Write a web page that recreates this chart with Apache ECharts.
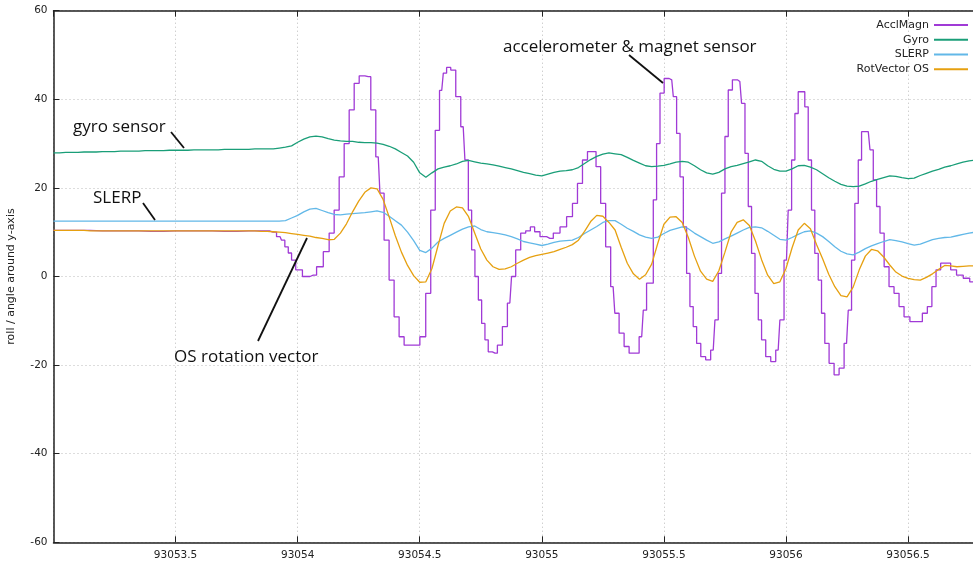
<!DOCTYPE html>
<html>
<head>
<meta charset="utf-8">
<script src="https://cdn.jsdelivr.net/npm/echarts@6/dist/echarts.min.js"></script>
<style>
  html, body { margin: 0; padding: 0; background: #fff; }
  #container { width: 973px; height: 565px; }
</style>
</head>
<body>
<div id="container"></div>
<script>
  // Gyro / SLERP / RotVector OS: samples every 0.025 s starting at 93053.000
  var tStart = 93053.0;
  var tStep = 0.025;

  // AcclMagn is a stepped signal, read at its own time stamps
  var acclMagnTimes = [
    93053.000, 93053.100, 93053.200, 93053.300, 93053.400, 93053.500, 93053.600, 93053.700, 93053.800, 93053.870,
    93053.899, 93053.928, 93053.940, 93053.955, 93053.968, 93053.982, 93054.002, 93054.037, 93054.064, 93054.091,
    93054.119, 93054.139, 93054.160, 93054.180, 93054.201, 93054.221, 93054.242, 93054.262, 93054.289, 93054.310,
    93054.330, 93054.344, 93054.364, 93054.385, 93054.405, 93054.426, 93054.446, 93054.487, 93054.514, 93054.535,
    93054.555, 93054.572, 93054.590, 93054.603, 93054.617, 93054.637, 93054.658, 93054.678, 93054.692, 93054.706,
    93054.719, 93054.733, 93054.747, 93054.760, 93054.774, 93054.787, 93054.808, 93054.828, 93054.849, 93054.869,
    93054.883, 93054.903, 93054.924, 93054.944, 93054.962, 93054.979, 93055.006, 93055.033, 93055.061, 93055.088,
    93055.115, 93055.136, 93055.156, 93055.177, 93055.197, 93055.213, 93055.231, 93055.251, 93055.272, 93055.292,
    93055.306, 93055.327, 93055.347, 93055.368, 93055.388, 93055.409, 93055.422, 93055.436, 93055.450, 93055.463,
    93055.477, 93055.491, 93055.511, 93055.532, 93055.545, 93055.559, 93055.573, 93055.586, 93055.600, 93055.613,
    93055.627, 93055.641, 93055.661, 93055.681, 93055.702, 93055.716, 93055.729, 93055.743, 93055.757, 93055.770,
    93055.791, 93055.811, 93055.825, 93055.839, 93055.852, 93055.866, 93055.880, 93055.893, 93055.907, 93055.927,
    93055.948, 93055.968, 93055.982, 93056.002, 93056.016, 93056.030, 93056.043, 93056.057, 93056.070, 93056.084,
    93056.098, 93056.111, 93056.125, 93056.139, 93056.152, 93056.166, 93056.187, 93056.207, 93056.228, 93056.248,
    93056.262, 93056.275, 93056.289, 93056.303, 93056.316, 93056.337, 93056.351, 93056.364, 93056.378, 93056.392,
    93056.412, 93056.432, 93056.453, 93056.473, 93056.494, 93056.521, 93056.548, 93056.569, 93056.589, 93056.606,
    93056.623, 93056.644, 93056.664, 93056.685, 93056.712, 93056.740, 93056.765, 93056.790
  ];
  var acclMagn = [
    10.4, 10.4, 10.3, 10.3, 10.2, 10.3, 10.3, 10.2, 10.3, 10.3,
    10.0, 9.0, 8.2, 6.7, 5.3, 3.7, 1.5, 0.0, 0.3, 2.2,
    5.6, 9.8, 15.0, 22.5, 30.0, 37.6, 43.6, 45.3, 45.1, 37.6,
    27.0, 18.8, 8.2, -0.8, -9.1, -13.6, -15.5, -15.5, -13.6, -3.8,
    15.0, 33.0, 42.0, 45.9, 47.2, 46.6, 40.6, 33.8, 26.3, 15.0,
    6.0, 0.0, -5.3, -10.6, -14.3, -17.0, -17.3, -15.5, -11.3, -6.0,
    0.0, 6.0, 9.8, 10.3, 11.2, 10.1, 9.0, 8.6, 9.8, 11.2,
    13.5, 16.5, 21.0, 26.3, 28.2, 28.2, 24.8, 16.5, 6.7, -2.3,
    -8.3, -12.8, -15.8, -17.3, -17.3, -13.6, -7.6, -1.5, -1.5, 17.3,
    30.0, 41.4, 44.7, 44.4, 40.6, 32.3, 22.5, 11.2, 0.7, -6.8,
    -11.3, -15.1, -18.1, -18.8, -16.6, -9.8, 0.7, 18.8, 31.6, 42.1,
    44.4, 44.0, 39.1, 27.8, 15.8, 5.2, -3.8, -9.8, -14.3, -18.1,
    -19.2, -16.6, -9.8, 3.7, 15.0, 26.3, 36.8, 41.7, 41.7, 38.3,
    26.3, 15.0, 5.2, -0.8, -8.3, -15.1, -19.6, -22.2, -20.7, -15.1,
    -7.6, 3.7, 16.5, 26.3, 32.7, 32.7, 28.6, 21.8, 15.8, 9.8,
    2.2, -2.3, -3.8, -6.8, -9.1, -10.2, -10.2, -8.3, -6.8, -2.3,
    1.5, 3.0, 3.0, 1.5, 0.3, -0.4, -1.2, -1.5
  ];

  var gyro = [
    27.9, 27.9, 28.0, 28.0, 28.0, 28.1, 28.1, 28.1, 28.2, 28.2,
    28.2, 28.3, 28.3, 28.3, 28.3, 28.4, 28.4, 28.4, 28.4, 28.5,
    28.5, 28.5, 28.5, 28.6, 28.6, 28.6, 28.6, 28.6, 28.7, 28.7,
    28.7, 28.7, 28.7, 28.8, 28.8, 28.8, 28.8, 29.0, 29.2, 29.5,
    30.3, 31.0, 31.5, 31.7, 31.5, 31.1, 30.8, 30.6, 30.5, 30.5,
    30.3, 30.2, 30.2, 30.1, 29.8, 29.4, 28.8, 28.0, 27.2, 25.8,
    23.4, 22.4, 23.4, 24.3, 24.7, 25.0, 25.4, 26.0, 26.2, 25.9,
    25.6, 25.4, 25.2, 24.9, 24.6, 24.3, 23.9, 23.5, 23.2, 22.9,
    22.7, 23.1, 23.5, 23.8, 23.9, 24.1, 24.6, 25.5, 26.4, 27.1,
    27.6, 27.9, 27.7, 27.5, 26.9, 26.2, 25.6, 25.0, 24.8, 24.9,
    25.1, 25.4, 25.8, 26.0, 25.8, 25.0, 24.1, 23.4, 23.1, 23.5,
    24.3, 24.8, 25.1, 25.5, 25.9, 26.3, 26.0, 25.0, 24.2, 23.8,
    23.8, 24.3, 25.0, 25.1, 24.7, 24.1, 23.2, 22.3, 21.5, 20.8,
    20.4, 20.3, 20.4, 20.9, 21.5, 21.9, 22.3, 22.7, 22.6, 22.3,
    22.1, 22.2, 22.8, 23.3, 23.8, 24.2, 24.7, 25.0, 25.4, 25.8,
    26.1, 26.3
  ];

  var slerp = [
    12.5, 12.5, 12.5, 12.5, 12.5, 12.5, 12.5, 12.5, 12.5, 12.5,
    12.5, 12.5, 12.5, 12.5, 12.5, 12.5, 12.5, 12.5, 12.5, 12.5,
    12.5, 12.5, 12.5, 12.5, 12.5, 12.5, 12.5, 12.5, 12.5, 12.5,
    12.5, 12.5, 12.5, 12.5, 12.5, 12.5, 12.5, 12.5, 12.6, 13.2,
    13.8, 14.6, 15.2, 15.4, 14.9, 14.4, 14.0, 13.9, 14.1, 14.2,
    14.3, 14.4, 14.6, 14.8, 14.5, 13.6, 12.6, 11.6, 10.0, 8.1,
    5.9, 5.4, 6.4, 7.8, 8.6, 9.3, 10.0, 10.7, 11.2, 11.4,
    10.6, 10.1, 9.9, 9.7, 9.4, 9.0, 8.5, 7.9, 7.6, 7.3,
    7.0, 7.3, 7.7, 8.0, 8.1, 8.2, 8.8, 9.7, 10.5, 11.3,
    12.2, 12.6, 12.6, 11.8, 10.9, 10.2, 9.4, 8.9, 8.6, 8.9,
    9.7, 10.4, 10.8, 11.2, 10.8, 9.8, 9.0, 8.2, 7.5, 7.8,
    8.5, 9.1, 9.8, 10.5, 11.1, 11.2, 11.0, 10.2, 9.3, 8.4,
    8.2, 8.8, 9.5, 10.1, 10.3, 9.8, 9.0, 7.9, 6.7, 5.7,
    5.1, 4.9, 5.5, 6.3, 6.9, 7.4, 7.9, 8.3, 8.1, 7.8,
    7.4, 7.1, 7.3, 7.8, 8.3, 8.6, 8.8, 8.9, 9.2, 9.5,
    9.8, 10.0
  ];

  var rotVectorOS = [
    10.4, 10.4, 10.4, 10.4, 10.4, 10.4, 10.3, 10.3, 10.3, 10.3,
    10.3, 10.3, 10.3, 10.3, 10.3, 10.3, 10.3, 10.3, 10.3, 10.3,
    10.3, 10.3, 10.3, 10.3, 10.3, 10.3, 10.3, 10.3, 10.3, 10.3,
    10.3, 10.3, 10.3, 10.3, 10.2, 10.2, 10.1, 10.0, 9.9, 9.7,
    9.5, 9.3, 9.1, 8.8, 8.6, 8.3, 8.4, 9.8, 11.9, 14.6,
    17.0, 19.0, 20.0, 19.8, 17.4, 13.4, 9.2, 5.5, 2.5, 0.2,
    -1.3, -1.2, 1.8, 7.0, 12.0, 14.8, 15.7, 15.5, 13.5, 9.8,
    6.2, 3.7, 2.2, 1.6, 1.7, 2.2, 3.0, 3.7, 4.3, 4.7,
    5.0, 5.3, 5.6, 6.1, 6.6, 7.2, 8.2, 10.2, 12.4, 13.8,
    13.6, 12.2, 10.5, 6.6, 3.0, 0.6, -0.6, 0.4, 2.8, 7.5,
    11.8, 13.4, 13.5, 12.2, 8.8, 4.6, 1.2, -0.6, -1.1, 1.3,
    5.5, 10.0, 12.2, 12.8, 11.5, 8.0, 3.8, 0.3, -1.6, -1.2,
    1.8, 6.5, 10.5, 12.0, 10.8, 7.2, 4.0, 0.5, -2.3, -4.3,
    -4.6, -2.4, 1.5, 4.6, 6.1, 5.8, 4.4, 2.6, 1.0, 0.1,
    -0.4, -0.7, -0.8, -0.2, 0.6, 1.6, 2.5, 2.4, 2.2, 2.3,
    2.4, 2.4
  ];

  var seriesNames = ['AcclMagn', 'Gyro', 'SLERP', 'RotVector OS'];
  var seriesColors = ['#a03ad6', '#1a9e78', '#62b8e8', '#e6a010'];

  function pairs(values) {
    return values.map(function (v, i) {
      return [+(tStart + i * tStep).toFixed(3), v];
    });
  }

  var dom = document.getElementById('container');
  var myChart = echarts.init(dom, null, { renderer: 'canvas' });

  var labelFont = { fontFamily: 'DejaVu Sans', fontSize: 10.5, color: '#222' };
  var noteFont = '17px "Open Sans"';
  var gridDots = { show: true, lineStyle: { color: '#bbb', type: [1, 3], width: 1 } };

  var option = {
    animation: false,
    backgroundColor: '#fff',
    color: seriesColors,
    grid: {
      left: 53.5, right: -1, top: 10.7, bottom: 22.7,
      containLabel: false,
      outerBoundsMode: 'none'
    },
    legend: {
      orient: 'vertical',
      align: 'right',
      right: 4,
      top: 19.5,
      padding: 0,
      itemWidth: 34,
      itemHeight: 14,
      itemGap: 3.5,
      itemStyle: { opacity: 0, borderWidth: 0 },
      textStyle: { fontFamily: 'DejaVu Sans', fontSize: 11, color: '#222' },
      data: seriesNames
    },
    xAxis: [
      {
        type: 'value',
        min: 93053.0,
        max: 93056.77,
        interval: 0.5,
        axisLine: { onZero: false, lineStyle: { color: '#222', width: 1.5 } },
        axisTick: { inside: true, length: 6, lineStyle: { color: '#222' } },
        axisLabel: Object.assign({
          showMinLabel: false,
          showMaxLabel: false,
          margin: 7,
          formatter: function (v) { return String(v); }
        }, labelFont),
        splitLine: gridDots
      },
      {
        type: 'value',
        position: 'top',
        min: 93053.0,
        max: 93056.77,
        interval: 0.5,
        axisLine: { show: true, onZero: false, lineStyle: { color: '#222', width: 1.5 } },
        axisTick: { show: true, inside: true, length: 6, lineStyle: { color: '#222' } },
        axisLabel: { show: false },
        splitLine: { show: false }
      }
    ],
    yAxis: {
      type: 'value',
      min: -60,
      max: 60,
      interval: 20,
      name: 'roll / angle around y-axis',
      nameLocation: 'middle',
      nameGap: 37,
      nameTextStyle: { fontFamily: 'DejaVu Sans', fontSize: 11, color: '#222' },
      axisLine: { show: true, onZero: false, lineStyle: { color: '#222', width: 1.5 } },
      axisTick: { show: true, inside: true, length: 6, lineStyle: { color: '#222' } },
      axisLabel: Object.assign({ margin: 6 }, labelFont),
      splitLine: gridDots
    },
    series: [
      {
        name: seriesNames[0],
        type: 'line',
        step: 'middle',
        showSymbol: false,
        symbol: 'none',
        lineStyle: { width: 1.3 },
        data: acclMagnTimes.map(function (t, i) { return [t, acclMagn[i]]; }),
        z: 2
      },
      {
        name: seriesNames[1],
        type: 'line',
        showSymbol: false,
        symbol: 'none',
        lineStyle: { width: 1.3 },
        data: pairs(gyro),
        z: 3
      },
      {
        name: seriesNames[2],
        type: 'line',
        showSymbol: false,
        symbol: 'none',
        lineStyle: { width: 1.3 },
        data: pairs(slerp),
        z: 4
      },
      {
        name: seriesNames[3],
        type: 'line',
        showSymbol: false,
        symbol: 'none',
        lineStyle: { width: 1.3 },
        data: pairs(rotVectorOS),
        z: 5
      }
    ],
    graphic: [
      { type: 'text', x: 73, y: 127, z: 10, style: { text: 'gyro sensor', font: noteFont, fill: '#111', verticalAlign: 'middle' } },
      { type: 'line', z: 10, shape: { x1: 171, y1: 132, x2: 184, y2: 148 }, style: { stroke: '#111', lineWidth: 1.8 } },
      { type: 'text', x: 93, y: 198, z: 10, style: { text: 'SLERP', font: noteFont, fill: '#111', verticalAlign: 'middle' } },
      { type: 'line', z: 10, shape: { x1: 143, y1: 203, x2: 155, y2: 220 }, style: { stroke: '#111', lineWidth: 1.8 } },
      { type: 'text', x: 174, y: 357, z: 10, style: { text: 'OS rotation vector', font: noteFont, fill: '#111', verticalAlign: 'middle' } },
      { type: 'line', z: 10, shape: { x1: 258, y1: 341, x2: 307, y2: 238 }, style: { stroke: '#111', lineWidth: 1.8 } },
      { type: 'text', x: 503, y: 47, z: 10, style: { text: 'accelerometer & magnet sensor', font: noteFont, fill: '#111', verticalAlign: 'middle' } },
      { type: 'line', z: 10, shape: { x1: 629, y1: 55, x2: 663, y2: 83 }, style: { stroke: '#111', lineWidth: 1.8 } }
    ]
  };

  myChart.setOption(option);
  window.addEventListener('resize', myChart.resize);
</script>
</body>
</html>
